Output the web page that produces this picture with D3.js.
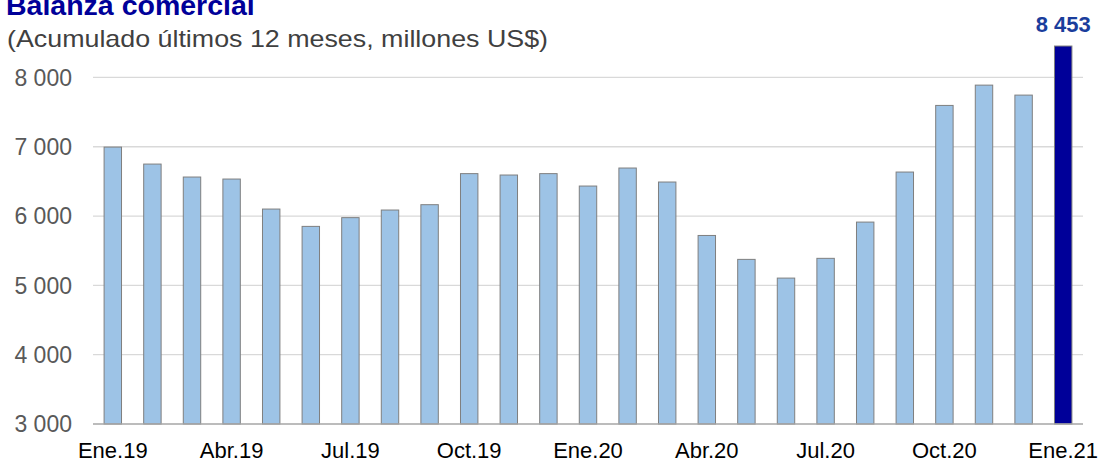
<!DOCTYPE html>
<html>
<head>
<meta charset="utf-8">
<script src="https://cdn.jsdelivr.net/npm/d3@7"></script>
<style>
  body { margin: 0; background: #fff; }
  svg { display: block; font-family: "Liberation Sans", Arial, sans-serif; }
</style>
</head>
<body>
<div id="chart"></div>
<script>
// data (millones US$, acumulado 12 meses)
let months = ['Ene.19', 'Feb.19', 'Mar.19', 'Abr.19', 'May.19', 'Jun.19', 'Jul.19', 'Ago.19', 'Sep.19',
  'Oct.19', 'Nov.19', 'Dic.19', 'Ene.20', 'Feb.20', 'Mar.20', 'Abr.20', 'May.20', 'Jun.20',
  'Jul.20', 'Ago.20', 'Sep.20', 'Oct.20', 'Nov.20', 'Dic.20', 'Ene.21'];
let balance = [6995, 6750, 6563, 6534, 6101, 5851, 5977, 6087, 6164,
  6612, 6592, 6612, 6433, 6693, 6491, 5720, 5375, 5105,
  5390, 5913, 6635, 7596, 7889, 7745, 8453];
let yTicks = [3000, 4000, 5000, 6000, 7000, 8000];
let xLabels = ['Ene.19', 'Abr.19', 'Jul.19', 'Oct.19', 'Ene.20', 'Abr.20', 'Jul.20', 'Oct.20', 'Ene.21'];

let margin = { top: 0, right: 16, bottom: 38, left: 93 },
  W = 1099, H = 462,
  width = W - margin.left - margin.right,
  height = H - margin.top - margin.bottom;

let locale = d3.formatLocale({ decimal: ',', thousands: ' ', grouping: [3], currency: ['', ''] });
let fmt = locale.format(',d');

let svg = d3.select('#chart').
append('svg').
attr('width', W).
attr('height', H);

let g = svg.append('g').
attr('transform', 'translate(' + margin.left + ',' + margin.top + ')');

let x = d3.scaleBand().
domain(months).
range([0, width]).
paddingInner(0.56).
paddingOuter(0.28);

let y = d3.scaleLinear().
domain([3000, 9117]).
range([height, 0]);

// gridlines
g.selectAll('.grid').
data(yTicks.slice(1)).
enter().
append('line').
attr('x1', 0).
attr('x2', width).
attr('y1', d => y(d)).
attr('y2', d => y(d)).
attr('stroke', '#d9d9d9').
attr('stroke-width', 1.3);

// y labels
g.selectAll('.ylab').
data(yTicks).
enter().
append('text').
attr('x', -21).
attr('y', d => y(d)).
attr('dy', '0.36em').
attr('text-anchor', 'end').
attr('fill', '#595959').
style('font-size', '23px').
text(d => fmt(d));

// bars
g.selectAll('.bar').
data(balance).
enter().
append('rect').
attr('x', (d, i) => x(months[i])).
attr('y', d => y(d)).
attr('width', x.bandwidth()).
attr('height', d => height - y(d)).
attr('fill', (d, i) => i === months.length - 1 ? '#000099' : '#9dc3e6').
attr('stroke', '#7f7f7f').
attr('stroke-width', 1);

// axis line
g.append('line').
attr('x1', 0).
attr('x2', width).
attr('y1', height).
attr('y2', height).
attr('stroke', '#a6a6a6').
attr('stroke-width', 1.5);

// x labels
g.selectAll('.xlab').
data(xLabels).
enter().
append('text').
attr('x', d => x(d) + x.bandwidth() / 2).
attr('y', height + 34).
attr('text-anchor', 'middle').
attr('fill', '#000').
style('font-size', '22px').
text(d => d);

// last value label
let last = months.length - 1;
g.append('text').
attr('x', x(months[last]) + x.bandwidth() / 2).
attr('y', y(balance[last]) - 14).
attr('text-anchor', 'middle').
attr('fill', '#1a3d9c').
attr('font-weight', 'bold').
style('font-size', '22px').
text(fmt(balance[last]));

// titles
svg.append('text').
attr('x', 6).
attr('y', 15).
attr('fill', '#000099').
attr('font-weight', 'bold').
style('font-size', '28.5px').
text('Balanza comercial');

svg.append('text').
attr('x', 7).
attr('y', 47).
attr('fill', '#404040').
attr('textLength', 541).
attr('lengthAdjust', 'spacingAndGlyphs').
style('font-size', '24px').
text('(Acumulado últimos 12 meses, millones US$)');
</script>
</body>
</html>
